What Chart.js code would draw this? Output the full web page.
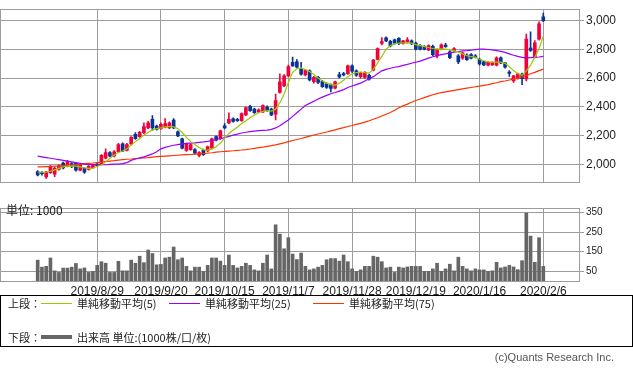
<!DOCTYPE html>
<html>
<head>
<meta charset="utf-8">
<script src="https://cdn.jsdelivr.net/npm/chart.js@4.4.1/dist/chart.umd.min.js"></script>
<style>
  body { margin: 0; background: #fff; width: 633px; height: 374px; position: relative; overflow: hidden;
         font-family: "Noto Sans CJK JP", sans-serif; }
  #price { position: absolute; left: 0; top: 0; }
  #vol { position: absolute; left: 0; top: 200px; }
  .unit { position: absolute; left: 6px; top: 201px; font-size: 12px; color: #222; }
  .legend { position: absolute; left: 0; top: 295px; width: 631px; height: 50px; border: 1px solid #000;
            font-size: 11px; color: #222; }
  .legend span { position: absolute; line-height: 14px; white-space: nowrap; }
  .legend b { position: absolute; display: block; }
  .copy { position: absolute; right: 19px; top: 351px; font-family: "Liberation Sans", sans-serif;
          font-size: 11px; color: #555; }
</style>
</head>
<body>
<canvas id="price" width="633" height="191"></canvas>
<canvas id="vol" width="633" height="100"></canvas>
<div class="unit">単位: 1000</div>
<div class="legend">
  <span style="left:7px;top:0">上段：</span>
  <b style="left:40px;top:7px;width:31px;height:1px;background:#99cc00"></b>
  <span style="left:76px;top:0">単純移動平均(5)</span>
  <b style="left:168px;top:7px;width:31px;height:1px;background:#9900ff"></b>
  <span style="left:204px;top:0">単純移動平均(25)</span>
  <b style="left:312px;top:7px;width:31px;height:1px;background:#ff3300"></b>
  <span style="left:348px;top:0">単純移動平均(75)</span>
  <span style="left:7px;top:34px">下段：</span>
  <b style="left:40px;top:39px;width:31px;height:4px;background:#666"></b>
  <span style="left:76px;top:34px">出来高 単位:(1000株/口/枚)</span>
</div>
<div class="copy">(c)Quants Research Inc.</div>
<script>
const dates = [
  '2019/8/8','2019/8/9','2019/8/13','2019/8/14','2019/8/15','2019/8/16','2019/8/19','2019/8/20','2019/8/21','2019/8/22',
  '2019/8/23','2019/8/26','2019/8/27','2019/8/28','2019/8/29','2019/8/30','2019/9/2','2019/9/3','2019/9/4','2019/9/5',
  '2019/9/6','2019/9/9','2019/9/10','2019/9/11','2019/9/12','2019/9/13','2019/9/17','2019/9/18','2019/9/19','2019/9/20',
  '2019/9/24','2019/9/25','2019/9/26','2019/9/27','2019/9/30','2019/10/1','2019/10/2','2019/10/3','2019/10/4','2019/10/7',
  '2019/10/8','2019/10/9','2019/10/10','2019/10/11','2019/10/15','2019/10/16','2019/10/17','2019/10/18','2019/10/21','2019/10/23',
  '2019/10/24','2019/10/25','2019/10/28','2019/10/29','2019/10/30','2019/10/31','2019/11/1','2019/11/5','2019/11/6','2019/11/7',
  '2019/11/8','2019/11/11','2019/11/12','2019/11/13','2019/11/14','2019/11/15','2019/11/18','2019/11/19','2019/11/20','2019/11/21',
  '2019/11/22','2019/11/25','2019/11/26','2019/11/27','2019/11/28','2019/11/29','2019/12/2','2019/12/3','2019/12/4','2019/12/5',
  '2019/12/6','2019/12/9','2019/12/10','2019/12/11','2019/12/12','2019/12/13','2019/12/16','2019/12/17','2019/12/18','2019/12/19',
  '2019/12/20','2019/12/23','2019/12/24','2019/12/25','2019/12/26','2019/12/27','2019/12/30','2020/1/6','2020/1/7','2020/1/8',
  '2020/1/9','2020/1/10','2020/1/14','2020/1/15','2020/1/16','2020/1/17','2020/1/20','2020/1/21','2020/1/22','2020/1/23',
  '2020/1/24','2020/1/27','2020/1/28','2020/1/29','2020/1/30','2020/1/31','2020/2/3','2020/2/4','2020/2/5','2020/2/6'
];

const openP = [
  1952,1945,1915,1945,1935,1968,2012,1990,2008,2010, 1962,1975,1968,1980,2005,2008,2045,2085,2060,2090,
  2145,2100,2145,2210,2195,2222,2255,2315,2268,2250, 2260,2255,2310,2228,2180,2100,2105,2105,2065,2100,
  2095,2115,2195,2180,2270,2290,2318,2315,2305,2345, 2405,2385,2365,2365,2400,2385,2350,2500,2545,2615,
  2710,2712,2665,2622,2650,2575,2605,2578,2560,2555, 2530,2625,2632,2630,2685,2650,2610,2605,2620,2655,
  2730,2840,2878,2855,2865,2875,2840,2848,2858,2842, 2825,2818,2795,2820,2752,2800,2828,2782,2790,2755,
  2738,2760,2762,2755,2730,2712,2690,2692,2690,2740, 2705,2642,2580,2598,2628,2595,2808,2745,2870,3025
];
const highP = [
  1960,1952,1955,1995,1985,2000,2018,2030,2015,2015, 2008,1980,1995,2005,2012,2070,2110,2092,2098,2148,
  2152,2148,2195,2222,2232,2290,2300,2340,2275,2290, 2320,2298,2320,2235,2185,2150,2145,2112,2092,2108,
  2130,2185,2200,2240,2285,2360,2325,2322,2360,2400, 2412,2392,2388,2415,2408,2392,2490,2630,2625,2690,
  2745,2728,2710,2660,2658,2612,2612,2585,2568,2560, 2580,2640,2640,2690,2692,2658,2642,2645,2628,2730,
  2810,2880,2885,2862,2870,2880,2862,2880,2865,2850, 2832,2825,2830,2828,2802,2838,2840,2790,2812,2762,
  2780,2768,2770,2762,2738,2718,2715,2712,2748,2748, 2710,2652,2620,2635,2635,2905,2920,2860,2990,3050
];
const lowP = [
  1922,1928,1905,1940,1918,1962,1972,1985,1980,1955, 1958,1940,1962,1975,1988,2005,2040,2055,2055,2085,
  2090,2095,2140,2175,2190,2215,2250,2240,2240,2245, 2255,2250,2250,2195,2110,2092,2100,2075,2055,2065,
  2090,2110,2165,2175,2248,2285,2295,2300,2300,2340, 2370,2355,2360,2360,2370,2340,2310,2495,2540,2610,
  2680,2670,2620,2615,2580,2565,2562,2535,2528,2505, 2525,2600,2615,2625,2640,2612,2600,2598,2585,2650,
  2725,2830,2852,2815,2835,2832,2835,2842,2832,2795, 2795,2795,2790,2755,2740,2795,2812,2735,2785,2700,
  2730,2722,2732,2740,2690,2686,2685,2688,2685,2700, 2668,2612,2570,2592,2555,2580,2785,2740,2862,2990
];
const closeP = [
  1930,1938,1950,1990,1975,1995,1978,2022,1988,1962, 2000,1948,1990,2000,1993,2065,2085,2060,2090,2140,
  2095,2140,2190,2180,2225,2265,2290,2255,2245,2280, 2285,2290,2255,2200,2115,2145,2140,2080,2085,2070,
  2125,2180,2170,2235,2255,2315,2300,2305,2355,2395, 2375,2360,2380,2410,2375,2345,2445,2575,2615,2680,
  2685,2675,2628,2655,2588,2605,2570,2540,2535,2528, 2575,2608,2622,2685,2648,2620,2635,2640,2592,2725,
  2805,2852,2858,2822,2842,2838,2858,2865,2838,2800, 2800,2800,2825,2762,2798,2830,2818,2742,2805,2712,
  2775,2728,2738,2745,2698,2692,2710,2708,2740,2705, 2675,2632,2615,2630,2596,2870,2792,2845,2975,2998
];

const ma5 = [
  1950,1948,1948,1955,1965,1975,1985,1990,1992,1990, 1985,1978,1975,1975,1990,1998,2020,2045,2065,2085,
  2095,2110,2135,2160,2180,2205,2225,2240,2250,2255, 2262,2265,2262,2250,2225,2190,2160,2140,2120,2105,
  2100,2110,2125,2150,2185,2215,2240,2260,2285,2305, 2325,2345,2360,2370,2375,2372,2385,2430,2490,2570,
  2640,2665,2670,2660,2645,2625,2600,2580,2565,2555, 2552,2565,2585,2610,2630,2638,2642,2638,2636,2660,
  2705,2750,2800,2825,2838,2842,2843,2845,2842,2832, 2825,2818,2812,2805,2800,2802,2800,2795,2790,2780,
  2768,2755,2748,2745,2730,2720,2712,2710,2710,2710, 2702,2678,2652,2630,2620,2650,2690,2745,2805,2890
];
const ma25 = [
  2060,2055,2050,2045,2040,2035,2030,2025,2020,2015, 2010,2005,2003,2000,2000,2000,2000,2002,2004,2005,
  2008,2015,2030,2040,2048,2055,2065,2075,2090,2110, 2120,2128,2135,2140,2145,2148,2150,2152,2155,2158,
  2162,2168,2175,2180,2188,2196,2205,2212,2220,2225, 2230,2233,2236,2238,2240,2245,2255,2270,2290,2310,
  2335,2360,2385,2410,2425,2440,2455,2468,2480,2492, 2500,2510,2520,2535,2545,2555,2565,2580,2595,2610,
  2630,2650,2660,2668,2675,2680,2688,2695,2703,2710, 2718,2728,2738,2748,2755,2762,2768,2775,2780,2784,
  2788,2790,2793,2797,2800,2800,2798,2795,2790,2785, 2778,2768,2758,2750,2743,2740,2742,2744,2746,2750
];
const ma75 = [
  1985,1986,1987,1988,1990,1992,1995,1998,2000,2003, 2005,2008,2010,2012,2015,2018,2022,2025,2028,2032,
  2035,2038,2040,2043,2045,2048,2050,2053,2056,2058, 2060,2062,2064,2066,2068,2070,2071,2073,2075,2078,
  2080,2083,2087,2090,2092,2095,2097,2100,2102,2105, 2109,2113,2118,2122,2127,2132,2138,2145,2152,2160,
  2168,2175,2182,2190,2198,2206,2213,2220,2227,2235, 2242,2250,2257,2265,2272,2280,2287,2295,2305,2315,
  2325,2338,2350,2362,2378,2395,2408,2420,2433,2445, 2455,2465,2475,2485,2493,2500,2505,2510,2515,2520,
  2525,2530,2535,2540,2545,2550,2555,2562,2568,2575, 2580,2587,2593,2600,2608,2618,2630,2640,2652,2662
];

const volume = [
  107,71,75,118,52,44,66,66,71,90, 62,67,44,49,80,99,91,44,44,101,
  52,52,107,91,127,94,159,141,83,85, 118,122,174,109,118,75,52,71,71,49,
  80,118,118,102,80,133,80,67,75,91, 80,57,52,91,133,62,288,240,165,222,
  138,110,143,75,57,62,71,80,109,115, 115,102,133,99,62,49,57,75,75,127,
  122,99,67,71,44,71,67,72,75,75, 75,49,49,62,91,50,62,86,52,122,
  75,62,52,62,57,57,49,52,96,67, 72,80,72,58,104,348,230,96,222,75
];

const tickDates = ['2019/8/29','2019/9/20','2019/10/15','2019/11/7','2019/11/28','2019/12/19','2020/1/16','2020/2/6'];
const priceTicks = [2000, 2200, 2400, 2600, 2800, 3000];
const volumeTicks = [50, 100, 150, 200, 250, 300, 350];

const tickIndex = tickDates.map(d => dates.indexOf(d));
const gridColor = '#9c9c9c';
const upColor = '#f2003c';
const downColor = '#0a3396';
const candleColor = openP.map((o, i) => closeP[i] >= o ? upColor : downColor);

const frame = {
  id: 'frame',
  afterDraw(chart) {
    const { ctx, chartArea: a } = chart;
    ctx.save();
    ctx.strokeStyle = gridColor;
    ctx.lineWidth = 1;
    ctx.strokeRect(Math.round(a.left) + 0.5, Math.round(a.top) + 0.5,
                   Math.round(a.right - a.left), Math.round(a.bottom - a.top));
    ctx.restore();
  }
};

function xAxis(showLabels) {
  return {
    type: 'linear', min: -8.87, max: 127.4, offset: false,
    afterBuildTicks: s => { s.ticks = tickIndex.map(v => ({ value: v })); },
    grid: { color: gridColor, drawTicks: false, offset: false },
    border: { display: false },
    ticks: {
      display: showLabels, autoSkip: false, maxRotation: 0, padding: 3,
      font: { family: 'Liberation Sans', size: 12 }, color: '#222',
      callback: (v, i) => tickDates[i]
    },
    afterFit: s => { s.height = showLabels ? 19 : 0; }
  };
}

function yAxis(min, max, ticks, size, fmt) {
  return {
    position: 'right', min: min, max: max,
    afterBuildTicks: s => { s.ticks = ticks.map(v => ({ value: v })); },
    grid: { color: gridColor, tickLength: 5 },
    border: { display: false },
    ticks: { padding: 2, font: { family: 'Liberation Sans', size: size }, color: '#222', callback: fmt },
    afterFit: s => { s.width = 54; }
  };
}

const idx = dates.map((d, i) => i);
const maLine = (vals, color, order) => ({
  type: 'line', data: idx.map(i => ({ x: i, y: vals[i] })), borderColor: color,
  borderWidth: 1.2, pointRadius: 0, tension: 0, order: order
});

new Chart(document.getElementById('price'), {
  type: 'bar',
  data: {
    datasets: [
      maLine(ma5, '#99cc00', 0),
      maLine(ma25, '#9900ff', 1),
      maLine(ma75, '#ff3300', 2),
      {
        data: idx.map(i => ({ x: i, y: [openP[i], closeP[i]] })),
        backgroundColor: candleColor, barThickness: 3, minBarLength: 1, grouped: false, order: 3
      },
      {
        data: idx.map(i => ({ x: i, y: [lowP[i], highP[i]] })),
        backgroundColor: candleColor, barThickness: 1, grouped: false, order: 4
      }
    ]
  },
  options: {
    responsive: false, animation: false, events: [],
    layout: { padding: { left: 0, top: 0, right: 0, bottom: 1 } },
    plugins: { legend: { display: false }, tooltip: { enabled: false } },
    scales: {
      x: xAxis(false),
      y: yAxis(1882, 3077, priceTicks, 12, v => v.toLocaleString('en-US'))
    }
  },
  plugins: [frame]
});

new Chart(document.getElementById('vol'), {
  type: 'bar',
  data: {
    datasets: [{
      data: idx.map(i => ({ x: i, y: volume[i] })),
      backgroundColor: '#666666', barThickness: 3, grouped: false
    }]
  },
  options: {
    responsive: false, animation: false, events: [],
    layout: { padding: { left: 0, top: 2, right: 0, bottom: 0 } },
    plugins: { legend: { display: false }, tooltip: { enabled: false } },
    scales: {
      x: xAxis(true),
      y: yAxis(0, 374, volumeTicks, 10, v => v)
    }
  },
  plugins: [frame]
});
</script>
</body>
</html>
